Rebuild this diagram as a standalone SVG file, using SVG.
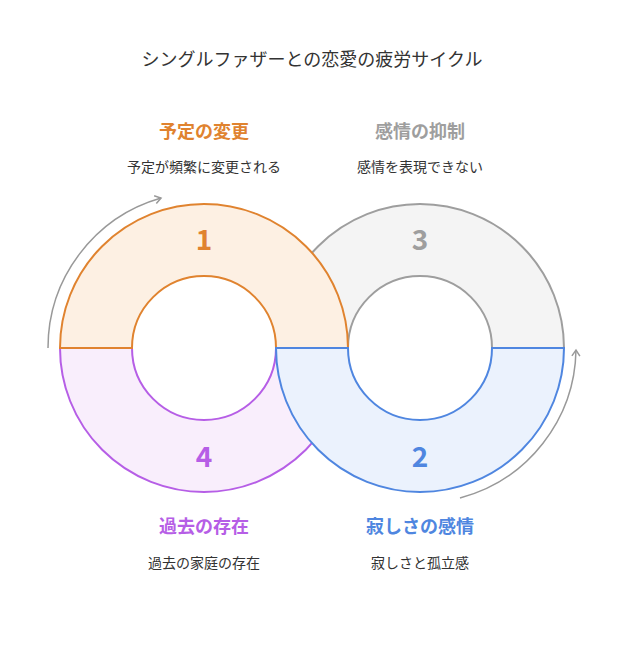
<svg xmlns="http://www.w3.org/2000/svg" width="624" height="660" viewBox="0 0 624 660">
<style>
text{font-family:"Noto Sans CJK JP","Noto Sans",sans-serif;text-anchor:middle}
.t{font-size:18px;fill:#333}
.h{font-size:18px;font-weight:bold}
.d{font-size:14px;fill:#333}
.n{font-size:28px;font-weight:bold}
.seg{stroke-width:2}
</style>
<defs>
<marker id="ah" markerWidth="10" markerHeight="10" refX="7" refY="5" orient="auto" markerUnits="userSpaceOnUse">
<path d="M1,1 L7,5 L1,9" fill="none" stroke="#999" stroke-width="1.5"/>
</marker>
</defs>
<rect width="624" height="660" fill="#fff"/>
<text class="t" x="312" y="66">シングルファザーとの恋愛の疲労サイクル</text>
<g id="node3"><path class="seg" d="M276,348 A144,144 0 0 1 564,348 L492,348 A72,72 0 0 0 348,348 Z" fill="#f4f4f4" stroke="#9e9e9e"/>
<text class="n" x="420" y="250" fill="#9e9e9e">3</text>
<text class="h" x="420" y="138" fill="#9e9e9e">感情の抑制</text>
<text class="d" x="420" y="172">感情を表現できない</text></g>
<g id="node4"><path class="seg" d="M60,348 A144,144 0 0 0 348,348 L276,348 A72,72 0 0 1 132,348 Z" fill="#f9eefc" stroke="#b65ee6"/>
<text class="n" x="204" y="467" fill="#b65ee6">4</text>
<text class="h" x="204" y="533" fill="#b65ee6">過去の存在</text>
<text class="d" x="204" y="568">過去の家庭の存在</text></g>
<g id="node1"><path class="seg" d="M60,348 A144,144 0 0 1 348,348 L276,348 A72,72 0 0 0 132,348 Z" fill="#fdf0e3" stroke="#e0832f"/>
<text class="n" x="204" y="250" fill="#e0832f">1</text>
<text class="h" x="204" y="138" fill="#e0832f">予定の変更</text>
<text class="d" x="204" y="172">予定が頻繁に変更される</text></g>
<g id="node2"><path class="seg" d="M276,348 A144,144 0 0 0 564,348 L492,348 A72,72 0 0 1 348,348 Z" fill="#ebf2fd" stroke="#4f86e0"/>
<text class="n" x="420" y="467" fill="#4f86e0">2</text>
<text class="h" x="420" y="533" fill="#4f86e0">寂しさの感情</text>
<text class="d" x="420" y="568">寂しさと孤立感</text></g>
<g id="connectors" fill="none" stroke="#999" stroke-width="1.5">
<path d="M48,348 A156,156 0 0 1 161,198" marker-end="url(#ah)"/>
<path d="M460,498 A156,156 0 0 0 576,350" marker-end="url(#ah)"/>
</g>
</svg>
